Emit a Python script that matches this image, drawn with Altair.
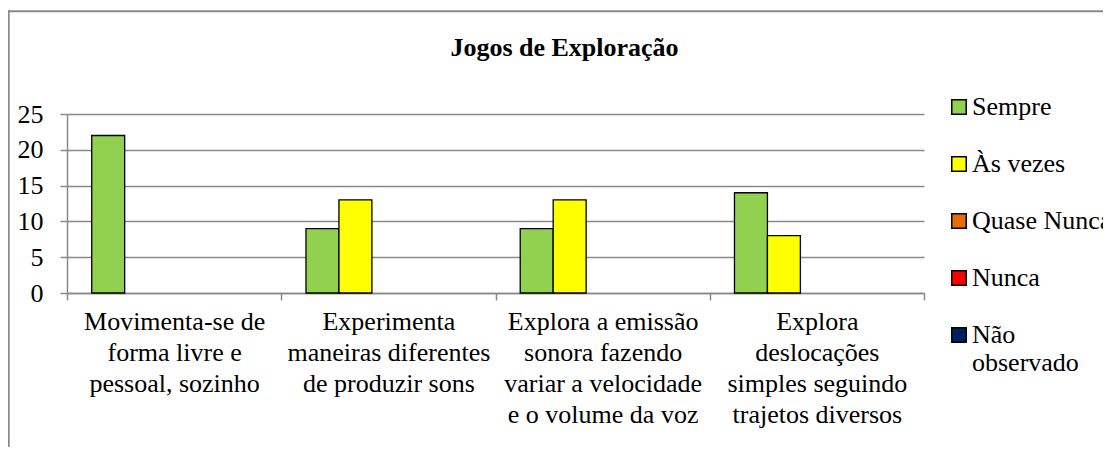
import altair as alt
import pandas as pd

categorias = [
    "Movimenta-se de\nforma livre e\npessoal, sozinho",
    "Experimenta\nmaneiras diferentes\nde produzir sons",
    "Explora a emissão\nsonora fazendo\nvariar a velocidade\ne o volume da voz",
    "Explora\ndeslocações\nsimples seguindo\ntrajetos diversos",
]
series = ["Sempre", "Às vezes", "Quase Nunca", "Nunca", "Não observado"]
cores = ["#92D050", "#FFFF00", "#E46C0A", "#FF0000", "#002060"]

sempre = [22, 9, 9, 14]
as_vezes = [0, 13, 13, 8]
quase_nunca = [0, 0, 0, 0]
nunca = [0, 0, 0, 0]
nao_observado = [0, 0, 0, 0]

valores = [sempre, as_vezes, quase_nunca, nunca, nao_observado]
rows = []
for s, vals in zip(series, valores):
    for c, v in zip(categorias, vals):
        rows.append({"categoria": c, "serie": s, "valor": v})
df = pd.DataFrame(rows)

FONT = "Liberation Serif"
GREY = "#898989"
W, H = 857, 179

bars = alt.Chart(df).transform_filter("datum.valor > 0").mark_bar(
    stroke="black", strokeWidth=1.3
).encode(
    x=alt.X("categoria:N", sort=categorias, title=None,
            scale=alt.Scale(paddingInner=0, paddingOuter=0),
            axis=alt.Axis(labelExpr="split(datum.label, '\\n')", labelAngle=0,
                          labelFont=FONT, labelFontSize=26, labelColor="black",
                          labelLimit=400, labelOverlap=False, labelLineHeight=31,
                          labelPadding=8, tickBand="extent", tickSize=7,
                          tickColor=GREY, tickWidth=1.5, domainColor=GREY,
                          domainWidth=1.5, grid=False)),
    xOffset=alt.XOffset("serie:N", sort=series,
                        scale=alt.Scale(domain=series, paddingOuter=0.75, paddingInner=0)),
    y=alt.Y("valor:Q", title=None,
            scale=alt.Scale(domain=[0, 25], nice=False),
            axis=alt.Axis(values=[0, 5, 10, 15, 20, 25], labelFont=FONT,
                          labelFontSize=26, labelColor="black", labelPadding=17,
                          tickSize=7, tickColor=GREY, tickWidth=1.5,
                          domainColor=GREY, domainWidth=1.5,
                          grid=True, gridColor=GREY, gridWidth=1.5)),
    color=alt.Color("serie:N", sort=series,
                    scale=alt.Scale(domain=series, range=cores),
                    legend=alt.Legend(title=None, orient="none", legendX=879, legendY=-20,
                                      symbolType="square", symbolSize=210,
                                      symbolStrokeColor="black", symbolStrokeWidth=1.5,
                                      labelFont=FONT, labelFontSize=26, labelColor="black",
                                      labelOffset=0, rowPadding=31, labelLimit=400,
                                      labelExpr="datum.label == 'Não observado' ? ['Não', 'observado'] : datum.label")),
)

frame_left = alt.Chart(alt.Data(values=[{}])).mark_rule(color=GREY, strokeWidth=2).encode(
    x=alt.value(-58.3), y=alt.value(-103.8), y2=alt.value(340)
)
frame_top = alt.Chart(alt.Data(values=[{}])).mark_rule(color=GREY, strokeWidth=2).encode(
    x=alt.value(-59), x2=alt.value(1040), y=alt.value(-102.8)
)

chart = alt.layer(bars, frame_left, frame_top).properties(
    width=W, height=H,
    title=alt.TitleParams("Jogos de Exploração", font=FONT, fontSize=26, fontWeight="bold",
                          color="black", anchor="middle", dx=69, offset=-52),
    autosize=alt.AutoSizeParams(type="none"),
    padding={"left": 59, "top": 106, "right": 179, "bottom": 154},
).configure(background="white").configure_view(stroke=None)

chart.save("out.html", embed_options={"renderer": "svg", "actions": False})
